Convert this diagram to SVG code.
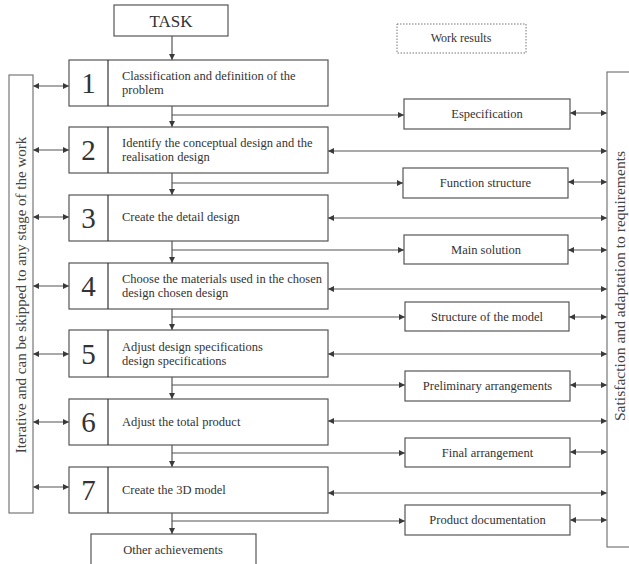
<svg xmlns="http://www.w3.org/2000/svg" width="629" height="564" viewBox="0 0 629 564">
<defs>
<marker id="ah" viewBox="0 0 10 10" refX="10" refY="5" markerWidth="7" markerHeight="6" markerUnits="userSpaceOnUse" orient="auto-start-reverse">
<path d="M0,0 L10,5 L0,10 z" fill="#3a3a3a"/>
</marker>
<style>
.box{fill:#fff;stroke:#555;stroke-width:1.2}
.bar{fill:#fff;stroke:#777;stroke-width:1.2}
.dot{fill:none;stroke:#777;stroke-width:1;stroke-dasharray:1.5,1.5}
.div{stroke:#333;stroke-width:1.2}
.t{font-family:"Liberation Serif","Times New Roman",serif;font-size:12.5px;fill:#333}
.c{text-anchor:middle}
.n{font-family:"Liberation Serif","Times New Roman",serif;font-size:29px;fill:#333;text-anchor:middle}
.side{font-family:"Liberation Serif","Times New Roman",serif;font-size:15px;fill:#444;text-anchor:middle}
.ln{fill:none;stroke:#555;stroke-width:1.2}
.a{marker-end:url(#ah)}
.aa{marker-start:url(#ah);marker-end:url(#ah)}
</style>
</defs>
<g id="connectors">
<line class="ln a" x1="172" y1="36" x2="172" y2="60"/>
<line class="ln a" x1="172" y1="106" x2="172" y2="127"/>
<line class="ln a" x1="172" y1="173" x2="172" y2="195"/>
<line class="ln a" x1="172" y1="241" x2="172" y2="263"/>
<line class="ln a" x1="172" y1="309" x2="172" y2="330"/>
<line class="ln a" x1="172" y1="377" x2="172" y2="399"/>
<line class="ln a" x1="172" y1="445" x2="172" y2="467"/>
<line class="ln a" x1="172" y1="513" x2="172" y2="534"/>
<line class="ln a" x1="172" y1="115" x2="404" y2="115"/>
<line class="ln a" x1="172" y1="183" x2="403" y2="183"/>
<line class="ln a" x1="172" y1="250" x2="404" y2="250"/>
<line class="ln a" x1="172" y1="317" x2="405" y2="317"/>
<line class="ln a" x1="172" y1="385" x2="405" y2="385"/>
<line class="ln a" x1="172" y1="453" x2="405" y2="453"/>
<line class="ln a" x1="172" y1="521" x2="405" y2="521"/>
<line class="ln aa" x1="570" y1="113" x2="607" y2="113"/>
<line class="ln aa" x1="568" y1="182" x2="607" y2="182"/>
<line class="ln aa" x1="568" y1="250" x2="607" y2="250"/>
<line class="ln aa" x1="569" y1="317" x2="607" y2="317"/>
<line class="ln aa" x1="570" y1="385" x2="607" y2="385"/>
<line class="ln aa" x1="570" y1="452" x2="607" y2="452"/>
<line class="ln aa" x1="570" y1="520" x2="607" y2="520"/>
<line class="ln aa" x1="328" y1="151" x2="607" y2="151"/>
<line class="ln aa" x1="328" y1="218" x2="607" y2="218"/>
<line class="ln aa" x1="328" y1="289" x2="607" y2="289"/>
<line class="ln aa" x1="328" y1="354" x2="607" y2="354"/>
<line class="ln aa" x1="328" y1="421" x2="607" y2="421"/>
<line class="ln aa" x1="328" y1="493" x2="607" y2="493"/>
<line class="ln aa" x1="33" y1="86" x2="69" y2="86"/>
<line class="ln aa" x1="33" y1="150" x2="69" y2="150"/>
<line class="ln aa" x1="33" y1="217" x2="69" y2="217"/>
<line class="ln aa" x1="33" y1="286" x2="69" y2="286"/>
<line class="ln aa" x1="33" y1="354" x2="69" y2="354"/>
<line class="ln aa" x1="33" y1="422" x2="69" y2="422"/>
<line class="ln aa" x1="33" y1="487" x2="69" y2="487"/>
</g>
<g id="task"><rect class="box" x="114" y="5" width="114" height="31"/><text class="t c" x="171" y="27" style="font-size:17px">TASK</text></g>
<g id="work-results"><rect class="dot" x="397" y="24" width="129" height="29"/><text class="t c" x="461" y="42" style="font-size:12px">Work results</text></g>
<g id="left-bar"><rect class="bar" x="9" y="75" width="24" height="438"/><text class="side" transform="translate(26,295) rotate(-90)">Iterative and can be skipped to any stage of the work</text></g>
<g id="right-bar"><rect class="bar" x="607" y="72" width="30" height="475"/><text class="side" style="font-size:15.6px" transform="translate(624.5,286) rotate(-90)">Satisfaction and adaptation to requirements</text></g>
<g id="step1"><rect class="box" x="69" y="60" width="259" height="46"/><line class="div" x1="108" y1="60" x2="108" y2="106"/><text class="n" x="88.5" y="93">1</text><text class="t" x="122" y="80">Classification and definition of the</text><text class="t" x="122" y="94">problem</text></g>
<g id="step2"><rect class="box" x="69" y="127" width="259" height="46"/><line class="div" x1="108" y1="127" x2="108" y2="173"/><text class="n" x="88.5" y="160">2</text><text class="t" x="122" y="147">Identify the conceptual design and the</text><text class="t" x="122" y="161">realisation design</text></g>
<g id="step3"><rect class="box" x="69" y="195" width="259" height="46"/><line class="div" x1="108" y1="195" x2="108" y2="241"/><text class="n" x="88.5" y="228">3</text><text class="t" x="122" y="221">Create the detail design</text></g>
<g id="step4"><rect class="box" x="69" y="263" width="259" height="46"/><line class="div" x1="108" y1="263" x2="108" y2="309"/><text class="n" x="88.5" y="296">4</text><text class="t" x="122" y="283">Choose the materials used in the chosen</text><text class="t" x="122" y="297">design chosen design</text></g>
<g id="step5"><rect class="box" x="69" y="330" width="259" height="47"/><line class="div" x1="108" y1="330" x2="108" y2="377"/><text class="n" x="88.5" y="364">5</text><text class="t" x="122" y="351">Adjust design specifications</text><text class="t" x="122" y="365">design specifications</text></g>
<g id="step6"><rect class="box" x="69" y="399" width="259" height="46"/><line class="div" x1="108" y1="399" x2="108" y2="445"/><text class="n" x="88.5" y="432">6</text><text class="t" x="122" y="426">Adjust the total product</text></g>
<g id="step7"><rect class="box" x="69" y="467" width="259" height="46"/><line class="div" x1="108" y1="467" x2="108" y2="513"/><text class="n" x="88.5" y="500">7</text><text class="t" x="122" y="494">Create the 3D model</text></g>
<g id="r1"><rect class="box" x="404" y="99" width="166" height="30"/><text class="t c" x="487" y="118">Especification</text></g>
<g id="r2"><rect class="box" x="403" y="168" width="165" height="30"/><text class="t c" x="485.5" y="187">Function structure</text></g>
<g id="r3"><rect class="box" x="404" y="235" width="164" height="29"/><text class="t c" x="486" y="254">Main solution</text></g>
<g id="r4"><rect class="box" x="405" y="302" width="164" height="29"/><text class="t c" x="487" y="321">Structure of the model</text></g>
<g id="r5"><rect class="box" x="405" y="371" width="165" height="30"/><text class="t c" x="487.5" y="390">Preliminary arrangements</text></g>
<g id="r6"><rect class="box" x="405" y="438" width="165" height="29"/><text class="t c" x="487.5" y="457">Final arrangement</text></g>
<g id="r7"><rect class="box" x="405" y="505" width="165" height="30"/><text class="t c" x="487.5" y="524">Product documentation</text></g>
<g id="other"><rect class="box" x="91" y="534" width="165" height="40"/><text class="t c" x="173" y="554">Other achievements</text></g>
</svg>
